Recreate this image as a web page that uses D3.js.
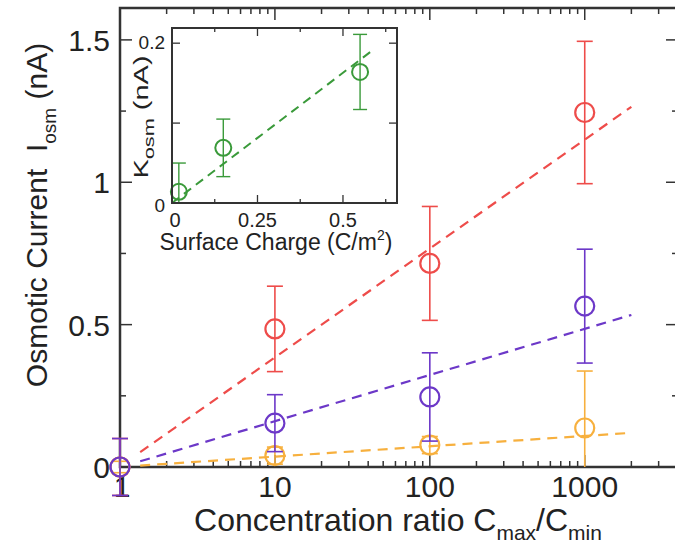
<!DOCTYPE html>
<html>
<head>
<meta charset="utf-8">
<script src="https://cdn.jsdelivr.net/npm/d3@7"></script>
<style>
  html, body { margin: 0; padding: 0; background: #fff; }
  svg text { font-family: "Liberation Sans", Arial, sans-serif; fill: #222; white-space: pre; }
</style>
</head>
<body>
<svg id="chart" width="675" height="545"></svg>
<script>
// Concentration ratio C_max/C_min
const ratios = [1, 10, 100, 1000];

// Osmotic current (nA) with upper / lower error half-widths, one series per surface charge
const highCharge      = [0, 0.485, 0.715, 1.245];
const highChargeErrUp = [0.1, 0.15, 0.2, 0.25];
const highChargeErrDn = [0.1, 0.15, 0.2, 0.25];
const midCharge       = [0, 0.154, 0.246, 0.565];
const midChargeErrUp  = [0.1, 0.1, 0.155, 0.2];
const midChargeErrDn  = [0.1, 0.1, 0.155, 0.2];
const lowCharge       = [0, 0.04, 0.077, 0.137];
const lowChargeErrUp  = [0.02, 0.03, 0.03, 0.2];
const lowChargeErrDn  = [0.02, 0.03, 0.03, 0.137];

// Dashed fit lines, endpoints [ratio, current]
const highFit = [[1.35, 0.052], [2000, 1.265]];
const midFit  = [[1.35, 0.02], [2000, 0.534]];
const lowFit  = [[1.35, 0.005], [2000, 0.12]];

// Inset: K_osm (nA) against surface charge (C/m^2)
const surfaceCharge = [0.02, 0.15, 0.55];
const kOsm          = [0.014, 0.069, 0.164];
const kOsmErrUp     = [0.036, 0.036, 0.047];
const kOsmErrDn     = [0.014, 0.036, 0.047];
const kOsmFit       = [[0, 0], [0.58, 0.189]];

// Tick labels
const xTickValues = [1, 10, 100, 1000];
const xTickLabels = ["1", "10", "100", "1000"];
const yTickValues = [0, 0.5, 1, 1.5];
const yTickLabels = ["0", "0.5", "1", "1.5"];
const insetXTickValues = [0, 0.25, 0.5];
const insetXTickLabels = ["0", "0.25", "0.5"];
const insetYTickValues = [0, 0.2];
const insetYTickLabels = ["0", "0.2"];

const colors = { high: "#ee4c4a", mid: "#6c38c8", low: "#f7b03e", inset: "#3a9a3a" };
const axisColor = "#333";

const svg = d3.select("#chart");

// ---------- main plot ----------
const frame = { left: 120, top: 8, right: 678, bottom: 467 };
const x = d3.scaleLog().domain([1, 4000]).range([frame.left, frame.right]);
const y = d3.scaleLinear().domain([0, 1.612]).range([frame.bottom, frame.top]);

// inward ticks on all four sides
const minorX = [];
[1, 10, 100, 1000].forEach(d => { for (let k = 2; k <= 9; k++) if (d * k <= 4000) minorX.push(d * k); });
const minorY = [0.25, 0.75, 1.25];

const ticks = svg.append("g").attr("stroke", axisColor).attr("stroke-width", 1.5);
xTickValues.forEach(v => {
  ticks.append("line").attr("x1", x(v)).attr("x2", x(v)).attr("y1", frame.bottom).attr("y2", frame.bottom - 12);
  ticks.append("line").attr("x1", x(v)).attr("x2", x(v)).attr("y1", frame.top).attr("y2", frame.top + 12);
});
minorX.forEach(v => {
  ticks.append("line").attr("x1", x(v)).attr("x2", x(v)).attr("y1", frame.bottom).attr("y2", frame.bottom - 6);
  ticks.append("line").attr("x1", x(v)).attr("x2", x(v)).attr("y1", frame.top).attr("y2", frame.top + 6);
});
yTickValues.forEach(v => {
  ticks.append("line").attr("x1", frame.left).attr("x2", frame.left + 12).attr("y1", y(v)).attr("y2", y(v));
  ticks.append("line").attr("x1", frame.right).attr("x2", frame.right - 12).attr("y1", y(v)).attr("y2", y(v));
});
minorY.forEach(v => {
  ticks.append("line").attr("x1", frame.left).attr("x2", frame.left + 6).attr("y1", y(v)).attr("y2", y(v));
  ticks.append("line").attr("x1", frame.right).attr("x2", frame.right - 6).attr("y1", y(v)).attr("y2", y(v));
});

svg.append("rect")
  .attr("x", frame.left).attr("y", frame.top)
  .attr("width", frame.right - frame.left).attr("height", frame.bottom - frame.top)
  .attr("fill", "none").attr("stroke", axisColor).attr("stroke-width", 2.5);

// tick labels
svg.append("g").selectAll("text").data(xTickValues).join("text")
  .attr("x", d => x(d) + (d === 1 ? 2 : 0)).attr("y", 497)
  .attr("text-anchor", "middle").attr("font-size", 30)
  .text((d, i) => xTickLabels[i]);
svg.append("g").selectAll("text").data(yTickValues).join("text")
  .attr("x", 110).attr("y", d => y(d) + 11)
  .attr("text-anchor", "end").attr("font-size", 30)
  .text((d, i) => yTickLabels[i]);

// axis titles
const xTitle = svg.append("text").attr("x", 398).attr("y", 531)
  .attr("text-anchor", "middle").attr("font-size", 32);
xTitle.append("tspan").text("Concentration ratio C");
xTitle.append("tspan").attr("font-size", 21).attr("dy", 9).text("max");
xTitle.append("tspan").attr("dy", -9).text("/C");
xTitle.append("tspan").attr("font-size", 21).attr("dy", 9).text("min");

const yTitle = svg.append("text")
  .attr("transform", "translate(47,215) rotate(-90)")
  .attr("text-anchor", "middle").attr("font-size", 30);
yTitle.append("tspan").text("Osmotic Current  I");
yTitle.append("tspan").attr("font-size", 19).attr("dy", 9).text("osm");
yTitle.append("tspan").attr("dy", -9).text(" (nA)");

// data series
const plot = svg.append("g");
const fitLine = d3.line().x(d => x(d[0])).y(d => y(d[1]));

function drawSeries(values, errUp, errDn, fit, color) {
  const g = plot.append("g");
  g.append("path").datum(fit).attr("d", fitLine)
    .attr("fill", "none").attr("stroke", color).attr("stroke-width", 2.2)
    .attr("stroke-dasharray", "10,7");
  const pts = ratios.map((r, i) => ({ r, v: values[i], up: values[i] + errUp[i], dn: values[i] - errDn[i] }));
  const eb = g.append("g").attr("stroke", color).attr("stroke-width", 1.6);
  pts.forEach(p => {
    eb.append("line").attr("x1", x(p.r)).attr("x2", x(p.r)).attr("y1", y(p.up)).attr("y2", y(p.dn));
    eb.append("line").attr("x1", x(p.r) - 8).attr("x2", x(p.r) + 8).attr("y1", y(p.up)).attr("y2", y(p.up));
    if (p.dn > 0 || p.r === 1)
      eb.append("line").attr("x1", x(p.r) - 8).attr("x2", x(p.r) + 8).attr("y1", y(p.dn)).attr("y2", y(p.dn));
  });
  g.selectAll("circle").data(pts).join("circle")
    .attr("cx", d => x(d.r)).attr("cy", d => y(d.v)).attr("r", 9.5)
    .attr("fill", "none").attr("stroke", color).attr("stroke-width", 2.2);
}
drawSeries(highCharge, highChargeErrUp, highChargeErrDn, highFit, colors.high);
drawSeries(lowCharge, lowChargeErrUp, lowChargeErrDn, lowFit, colors.low);
drawSeries(midCharge, midChargeErrUp, midChargeErrDn, midFit, colors.mid);

// ---------- inset ----------
const inset = { left: 172, top: 28, right: 397, bottom: 203 };
const ix = d3.scaleLinear().domain([0, 0.658]).range([inset.left, inset.right]);
const iy = d3.scaleLinear().domain([0, 0.219]).range([inset.bottom, inset.top]);

svg.append("rect")
  .attr("x", inset.left).attr("y", inset.top)
  .attr("width", inset.right - inset.left).attr("height", inset.bottom - inset.top)
  .attr("fill", "#fff");

const it = svg.append("g").attr("stroke", axisColor).attr("stroke-width", 1.3);
[0, 0.25, 0.5].forEach(v => {
  it.append("line").attr("x1", ix(v)).attr("x2", ix(v)).attr("y1", inset.bottom).attr("y2", inset.bottom - 8);
  it.append("line").attr("x1", ix(v)).attr("x2", ix(v)).attr("y1", inset.top).attr("y2", inset.top + 8);
});
[0.125, 0.375, 0.625].forEach(v => {
  it.append("line").attr("x1", ix(v)).attr("x2", ix(v)).attr("y1", inset.bottom).attr("y2", inset.bottom - 4);
  it.append("line").attr("x1", ix(v)).attr("x2", ix(v)).attr("y1", inset.top).attr("y2", inset.top + 4);
});
[0, 0.1, 0.2].forEach(v => {
  it.append("line").attr("x1", inset.left).attr("x2", inset.left + 8).attr("y1", iy(v)).attr("y2", iy(v));
  it.append("line").attr("x1", inset.right).attr("x2", inset.right - 8).attr("y1", iy(v)).attr("y2", iy(v));
});

const ig = svg.append("g");
ig.append("path").datum(kOsmFit)
  .attr("d", d3.line().x(d => ix(d[0])).y(d => iy(d[1])))
  .attr("fill", "none").attr("stroke", colors.inset).attr("stroke-width", 2)
  .attr("stroke-dasharray", "9,6");
const ipts = surfaceCharge.map((s, i) => ({ s, v: kOsm[i], up: kOsm[i] + kOsmErrUp[i], dn: kOsm[i] - kOsmErrDn[i] }));
const ieb = ig.append("g").attr("stroke", colors.inset).attr("stroke-width", 1.4);
ipts.forEach(p => {
  ieb.append("line").attr("x1", ix(p.s)).attr("x2", ix(p.s)).attr("y1", iy(p.up)).attr("y2", iy(p.dn));
  ieb.append("line").attr("x1", ix(p.s) - 7).attr("x2", ix(p.s) + 7).attr("y1", iy(p.up)).attr("y2", iy(p.up));
  if (p.dn > 0)
    ieb.append("line").attr("x1", ix(p.s) - 7).attr("x2", ix(p.s) + 7).attr("y1", iy(p.dn)).attr("y2", iy(p.dn));
});
ig.selectAll("circle").data(ipts).join("circle")
  .attr("cx", d => ix(d.s)).attr("cy", d => iy(d.v)).attr("r", 8)
  .attr("fill", "none").attr("stroke", colors.inset).attr("stroke-width", 2);

svg.append("rect")
  .attr("x", inset.left).attr("y", inset.top)
  .attr("width", inset.right - inset.left).attr("height", inset.bottom - inset.top)
  .attr("fill", "none").attr("stroke", axisColor).attr("stroke-width", 2);

svg.append("g").selectAll("text").data(insetXTickValues).join("text")
  .attr("x", d => ix(d) + (d === 0 ? 3 : 0)).attr("y", 227)
  .attr("text-anchor", "middle").attr("font-size", 20)
  .text((d, i) => insetXTickLabels[i]);
svg.append("g").selectAll("text").data(insetYTickValues).join("text")
  .attr("x", 165).attr("y", d => iy(d) + 6 + (d === 0 ? 3 : 0))
  .attr("text-anchor", "end").attr("font-size", 19)
  .text((d, i) => insetYTickLabels[i]);

const ixTitle = svg.append("text").attr("x", 276).attr("y", 250)
  .attr("text-anchor", "middle").attr("font-size", 23);
ixTitle.append("tspan").text("Surface Charge (C/m");
ixTitle.append("tspan").attr("font-size", 14).attr("dy", -10).text("2");
ixTitle.append("tspan").attr("dy", 10).text(")");

const iyTitle = svg.append("text")
  .attr("transform", "translate(148,117) rotate(-90) scale(1.45,1)")
  .attr("text-anchor", "middle").attr("font-size", 20);
iyTitle.append("tspan").text("K");
iyTitle.append("tspan").attr("font-size", 15).attr("dy", 6).text("osm");
iyTitle.append("tspan").attr("dy", -6).text(" (nA)");
</script>
</body>
</html>
